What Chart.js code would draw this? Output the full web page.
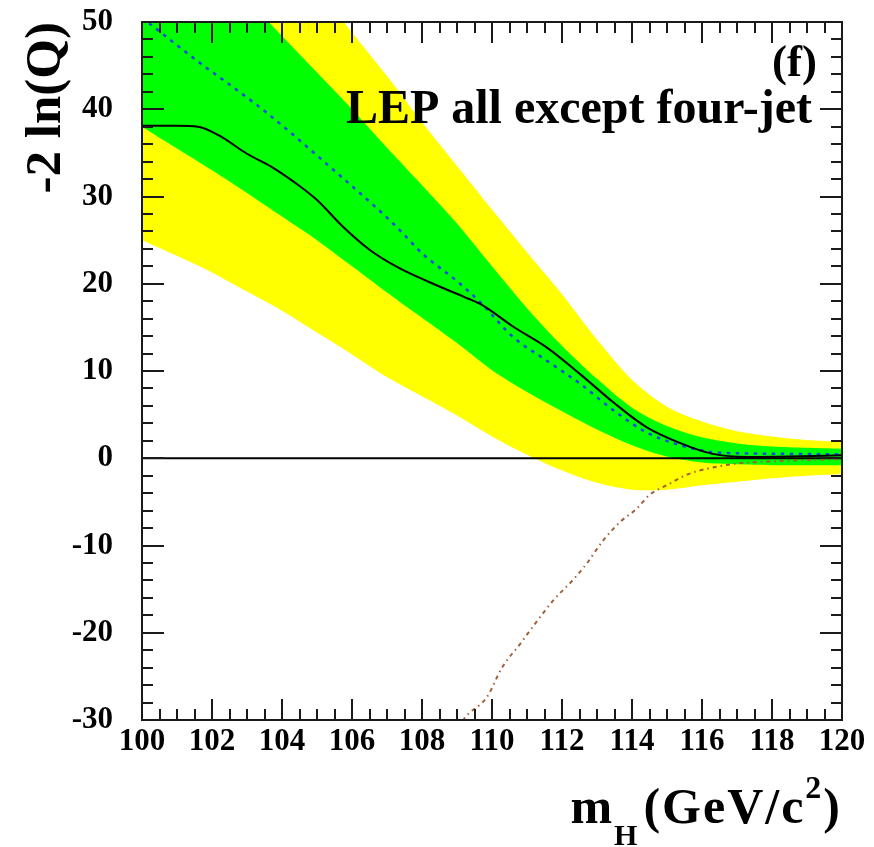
<!DOCTYPE html>
<html>
<head>
<meta charset="utf-8">
<script src="https://cdn.jsdelivr.net/npm/chart.js@4/dist/chart.umd.min.js"></script>
<style>
  html, body { margin: 0; padding: 0; background: #fff; }
  #wrap { width: 874px; height: 847px; }
</style>
</head>
<body>
<div id="wrap"><canvas id="c" width="874" height="847"></canvas></div>
<script>
// ---- data ----
const xTickLabels = [100, 102, 104, 106, 108, 110, 112, 114, 116, 118, 120];
const yTickLabels = [-30, -20, -10, 0, 10, 20, 30, 40, 50];

const bandMass    = [100,101,102,103,104,105,106,107,108,109,110,111,112,113,114,115,116,117,118,119,120];
const yellowUpper = [78,72.5,67.5,62.6,58.0,54.0,48.8,43.8,38.5,33.5,28.5,23.6,18.8,13.6,9.0,5.9,4.2,3.1,2.5,2.1,1.9];
const greenUpper  = [65,61,56.8,52.6,48.4,44.2,40.0,35.6,31.3,26.9,22.0,17.2,12.9,9.1,5.8,3.7,2.4,1.7,1.35,1.2,1.1];
const greenLower  = [38.0,35.5,33.0,30.4,27.7,25.0,22.0,19.0,16.1,13.2,10.1,7.6,5.4,3.3,1.5,0.2,-0.5,-0.7,-0.8,-0.8,-0.8];
const yellowLower = [25.0,23.2,21.3,19.1,16.9,14.4,11.9,9.3,7.1,4.9,2.5,0.4,-1.4,-2.8,-3.6,-3.6,-3.1,-2.7,-2.3,-2.0,-1.8];

const obsMass  = [100,101,101.6,102.2,103,103.7,104.4,105,105.75,106.5,107.3,108.2,109.2,109.7,110.6,111.6,112.5,113.5,114.4,115.4,116.3,117.3,118.5,120];
const obsValue = [38.1,38.1,38.0,37.0,34.9,33.4,31.5,29.6,26.5,23.9,21.9,20.2,18.5,17.6,15.1,12.6,9.7,6.3,3.6,1.7,0.5,0.15,0.2,0.35];

const expMass  = [100,101.56,103.47,105.37,107.28,108.0,109.0,109.66,110.6,111.56,112.5,113.47,114.4,115.37,116.3,117.3,118.5,120];
const expValue = [50.5,45.6,39.9,33.4,26.5,23.5,20.3,17.9,13.9,11.2,8.6,5.5,3.0,1.5,0.7,0.55,0.5,0.45];

const sigMass  = [109.0,109.18,109.85,110.3,110.8,111.28,111.75,112.3,112.7,113.18,113.66,114.13,114.5,114.99,115.56,116.04,117.0,118.0,119.0,120.0];
const sigValue = [-31.5,-30,-27.4,-23.9,-21.3,-18.7,-16.3,-14.0,-12.1,-9.4,-7.3,-5.8,-4.2,-3.1,-1.9,-1.3,-0.6,-0.35,-0.2,-0.1];

const zeroMass  = [100, 120];
const zeroValue = [0, 0];

const xTitleMain1 = 'm';
const xTitleSub   = 'H';
const xTitleMain2 = '(GeV/c';
const xTitleSup   = '2';
const xTitleMain3 = ')';
const yTitle = '-2 ln(Q)';
const panelLabel = '(f)';
const panelText  = 'LEP all except four-jet';

// ---- build ----
const pts = (xs, ys) => xs.map((x, i) => ({ x: x, y: ys[i] }));
const SERIF = '"Liberation Serif", "Times New Roman", serif';

const frameTicks = {
  id: 'frameTicks',
  afterDatasetsDraw(chart) {
    const { ctx, chartArea: a, scales: { x, y } } = chart;
    ctx.save();
    ctx.strokeStyle = '#1a1a1a';
    ctx.lineWidth = 2;
    ctx.beginPath();
    for (let v = xTickLabels[0]; v <= xTickLabels[xTickLabels.length - 1] + 1e-9; v += 0.5) {
      const px = Math.round(x.getPixelForValue(v));
      const major = Math.abs(v / 2 - Math.round(v / 2)) < 1e-6;
      const len = major ? 21 : 11;
      ctx.moveTo(px, a.bottom); ctx.lineTo(px, a.bottom - len);
      ctx.moveTo(px, a.top);    ctx.lineTo(px, a.top + len);
    }
    for (let v = yTickLabels[0]; v <= yTickLabels[yTickLabels.length - 1] + 1e-9; v += 2) {
      const py = Math.round(y.getPixelForValue(v));
      const major = Math.abs(v / 10 - Math.round(v / 10)) < 1e-6;
      const len = major ? 22 : 11;
      ctx.moveTo(a.left, py);  ctx.lineTo(a.left + len, py);
      ctx.moveTo(a.right, py); ctx.lineTo(a.right - len, py);
    }
    ctx.stroke();
    ctx.strokeRect(a.left, a.top, a.right - a.left, a.bottom - a.top);
    ctx.restore();
  },
  afterDraw(chart) {
    const { ctx, chartArea: a } = chart;
    ctx.save();
    ctx.fillStyle = '#000';
    ctx.textBaseline = 'alphabetic';
    ctx.textAlign = 'right';
    ctx.font = 'bold 45px ' + SERIF;
    ctx.fillText(panelLabel, a.right - 25, 76);
    ctx.font = 'bold 48px ' + SERIF;
    ctx.fillText(panelText, a.right - 30, 123);
    ctx.textAlign = 'left';
    if ('letterSpacing' in ctx) ctx.letterSpacing = '2px';
    const fMain = 'bold 50px ' + SERIF, fSub = 'bold 30px ' + SERIF, fSup = 'bold 32px ' + SERIF;
    ctx.font = fMain; const w1 = ctx.measureText(xTitleMain1).width;
    const w2 = ctx.measureText(xTitleMain2).width, w3 = ctx.measureText(xTitleMain3).width;
    ctx.font = fSub; const ws = ctx.measureText(xTitleSub).width + 4;
    ctx.font = fSup; const wp = ctx.measureText(xTitleSup).width;
    const total = w1 + ws + w2 + wp + w3;
    let cx = a.right - total;
    const base = 823;
    ctx.font = fMain; ctx.fillText(xTitleMain1, cx, base); cx += w1;
    ctx.font = fSub;  ctx.fillText(xTitleSub, cx, base + 22); cx += ws;
    ctx.font = fMain; ctx.fillText(xTitleMain2, cx, base); cx += w2;
    ctx.font = fSup;  ctx.fillText(xTitleSup, cx, base - 25); cx += wp;
    ctx.font = fMain; ctx.fillText(xTitleMain3, cx, base);
    ctx.restore();
  }
};

const lineDs = (label, xs, ys, opts) => Object.assign({
  label: label, data: pts(xs, ys), pointRadius: 0, pointHoverRadius: 0,
  borderWidth: 2, fill: false
}, opts);

new Chart(document.getElementById('c'), {
  type: 'line',
  data: {
    datasets: [
      lineDs('yellow upper', bandMass, yellowUpper, { borderWidth: 0, borderColor: 'rgba(0,0,0,0)', backgroundColor: '#ffff00', fill: '+1', order: 10, tension: 0.3 }),
      lineDs('yellow lower', bandMass, yellowLower, { borderWidth: 0, borderColor: 'rgba(0,0,0,0)', order: 10, tension: 0.3 }),
      lineDs('green upper', bandMass, greenUpper, { borderWidth: 0, borderColor: 'rgba(0,0,0,0)', backgroundColor: '#00ff00', fill: '+1', order: 8, tension: 0.3 }),
      lineDs('green lower', bandMass, greenLower, { borderWidth: 0, borderColor: 'rgba(0,0,0,0)', order: 8, tension: 0.3 }),
      lineDs('zero', zeroMass, zeroValue, { borderColor: '#000', borderWidth: 2, order: 5 }),
      lineDs('signal+background', sigMass, sigValue, { borderColor: '#a0613a', borderWidth: 2, borderDash: [4, 4, 1.5, 4], order: 4, cubicInterpolationMode: 'monotone' }),
      lineDs('expected background', expMass, expValue, { borderColor: '#0d45e8', borderWidth: 2.5, borderDash: [3.5, 5.5], order: 3, cubicInterpolationMode: 'monotone' }),
      lineDs('observed', obsMass, obsValue, { borderColor: '#000', borderWidth: 2, order: 2, cubicInterpolationMode: 'monotone' })
    ]
  },
  options: {
    responsive: false,
    devicePixelRatio: 1,
    animation: false,
    events: [],
    layout: { padding: { left: 0, right: 32, top: 22, bottom: 0 } },
    plugins: { legend: { display: false }, tooltip: { enabled: false } },
    scales: {
      x: {
        type: 'linear', min: 100, max: 120,
        afterFit(s) { s.height = 127; s.paddingLeft = 0; s.paddingRight = 0; },
        grid: { display: false, drawTicks: false },
        border: { display: false },
        ticks: {
          stepSize: 2, padding: 3, color: '#000', maxRotation: 0, autoSkip: false,
          font: { family: SERIF, size: 31, weight: 'bold' }
        }
      },
      y: {
        type: 'linear', min: -30, max: 50,
        afterFit(s) { s.width = 142; s.paddingTop = 0; s.paddingBottom = 0; },
        grid: { display: false, drawTicks: false },
        border: { display: false },
        ticks: {
          stepSize: 10, padding: 29, color: '#000',
          font: { family: SERIF, size: 31, weight: 'bold' }
        },
        title: {
          display: true, text: yTitle, align: 'end', color: '#000',
          padding: { top: 16, bottom: 0 },
          font: { family: SERIF, size: 51, weight: 'bold', lineHeight: 1.2 }
        }
      }
    }
  },
  plugins: [frameTicks]
});
</script>
</body>
</html>
